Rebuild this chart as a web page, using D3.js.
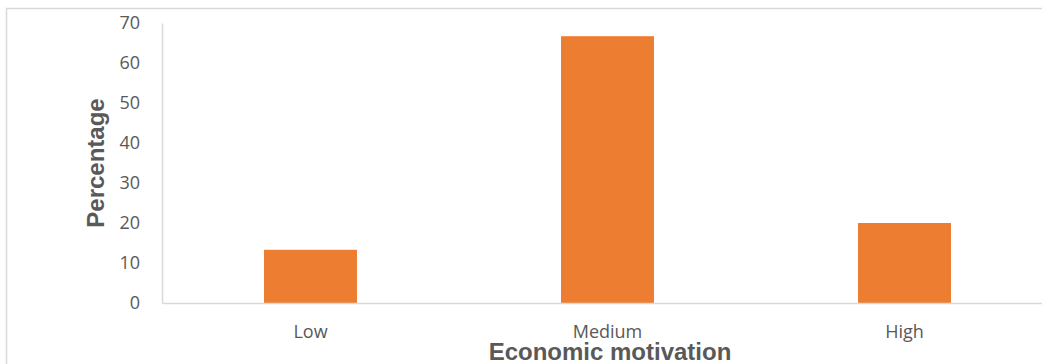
<!DOCTYPE html>
<html>
<head>
<meta charset="utf-8">
<script src="https://cdn.jsdelivr.net/npm/d3@7"></script>
<style>
  html, body { margin: 0; padding: 0; background: #fff; }
  svg { display: block; }
</style>
</head>
<body>
<svg id="chart" width="1042" height="364"></svg>
<script>
// Economic motivation bar chart
const categories = ["Low", "Medium", "High"];
const percentages = [13.3, 66.7, 20.0];
const yTicks = [0, 10, 20, 30, 40, 50, 60, 70];

const svg = d3.select("#chart");
const plotLeft = 162, plotRight = 1053, plotTop = 23, plotBottom = 303;

// outer chart border (right and bottom edges fall outside the picture)
svg.append("rect")
    .attr("x", 6.5).attr("y", 8.5)
    .attr("width", 1100).attr("height", 400)
    .attr("fill", "none").attr("stroke", "#d9d9d9").attr("stroke-width", 1.5);

const x = d3.scaleBand().domain(categories).range([plotLeft, plotRight])
    .paddingInner(0.687).paddingOuter(0.3435);
const y = d3.scaleLinear().domain([0, 70]).range([plotBottom, plotTop]);

// bars
svg.selectAll(".bar").data(categories).enter().append("rect")
    .attr("class", "bar")
    .attr("x", d => x(d))
    .attr("y", (d, i) => y(percentages[i]))
    .attr("width", x.bandwidth())
    .attr("height", (d, i) => y(0) - y(percentages[i]))
    .attr("fill", "#ED7D31");

// y axis
const yAxis = svg.append("g").attr("transform", `translate(${plotLeft},0)`)
    .call(d3.axisLeft(y).tickValues(yTicks).tickSize(0).tickPadding(22));
yAxis.select(".domain").attr("stroke", "#d9d9d9").attr("stroke-width", 1.5);
yAxis.selectAll("text")
    .attr("fill", "#595959")
    .style("font-family", "'Open Sans', sans-serif")
    .style("font-size", "18px");

// x axis
const xAxis = svg.append("g").attr("transform", `translate(0,${plotBottom})`)
    .call(d3.axisBottom(x).tickSize(0).tickPadding(22));
xAxis.select(".domain").attr("stroke", "#d9d9d9").attr("stroke-width", 1.5);
xAxis.selectAll("text")
    .attr("fill", "#595959")
    .style("font-family", "'Open Sans', sans-serif")
    .style("font-size", "18px");

// axis titles
svg.append("text")
    .attr("transform", `translate(104,${(plotTop + plotBottom) / 2}) rotate(-90)`)
    .attr("text-anchor", "middle")
    .attr("fill", "#595959")
    .style("font-family", "'Liberation Sans', Arial, sans-serif")
    .style("font-weight", "bold")
    .style("font-size", "24px")
    .text("Percentage");

svg.append("text")
    .attr("x", 610).attr("y", 360)
    .attr("text-anchor", "middle")
    .attr("fill", "#595959")
    .style("font-family", "'Liberation Sans', Arial, sans-serif")
    .style("font-weight", "bold")
    .style("font-size", "24px")
    .text("Economic motivation");
</script>
</body>
</html>
